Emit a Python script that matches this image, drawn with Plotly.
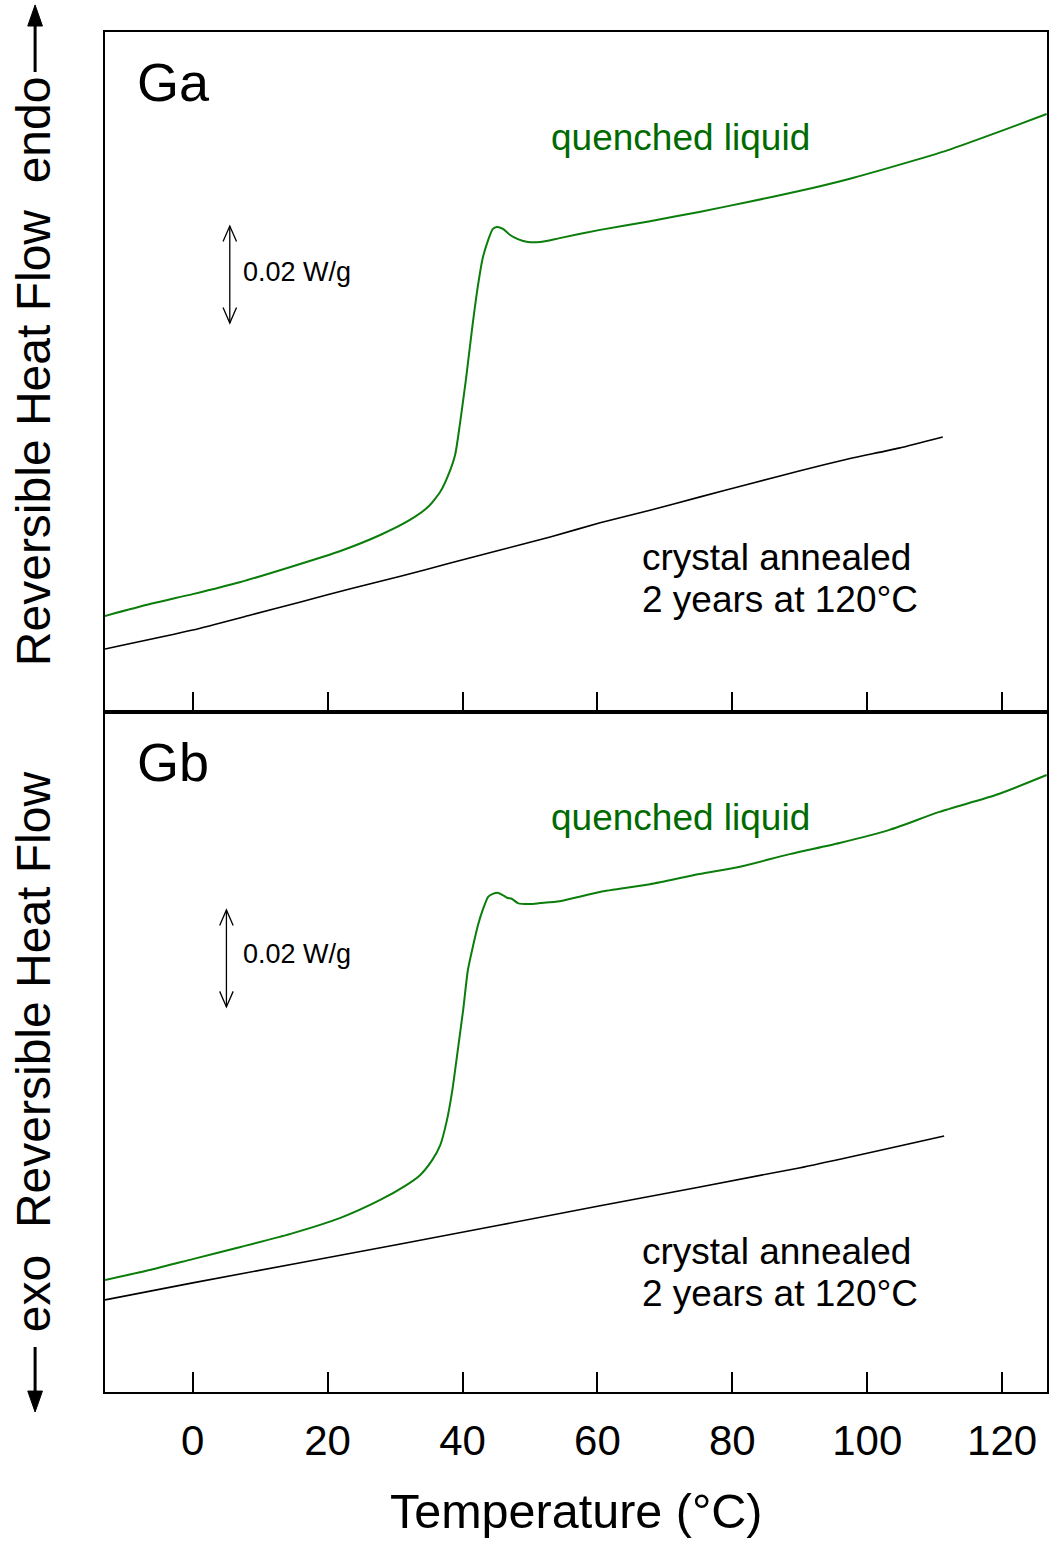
import plotly.graph_objects as go
from plotly.subplots import make_subplots

# ---------------- data ----------------
# Temperature in °C, reversible heat flow in mW/g (arbitrary offset)
T_ga_liquid = [-13.0, -6.2, 0.0, 7.1, 14.5, 21.9, 27.8, 32.2, 34.9, 36.7, 37.9, 38.9,
               39.6, 40.5, 41.4, 42.3, 43.0, 43.8, 44.5, 45.1, 46.0, 47.0, 48.2, 49.7,
               51.5, 54.4, 60.4, 67.8, 75.1, 82.5, 89.9, 97.3, 104.7, 112.1, 119.5, 126.6]
HF_ga_liquid = [19.8, 22.3, 24.3, 26.8, 29.9, 33.2, 36.5, 39.6, 42.3, 45.4, 48.9, 53.0,
                59.2, 68.5, 78.8, 88.0, 93.6, 97.3, 99.6, 100.0, 99.6, 98.4, 97.5, 96.9,
                96.9, 97.7, 99.4, 101.2, 103.1, 105.2, 107.4, 109.9, 112.8, 115.9, 119.6, 123.3]

T_ga_crystal = [-13.0, 0.0, 8.6, 16.0, 23.4, 30.8, 38.2, 45.6, 53.0, 60.4, 67.8, 75.1,
                82.5, 89.9, 97.3, 104.7, 111.2]
HF_ga_crystal = [13.0, 16.9, 20.0, 22.7, 25.4, 28.0, 30.7, 33.4, 36.1, 39.0, 41.6, 44.3,
                 47.0, 49.7, 52.2, 54.4, 56.7]

T_gb_liquid = [-13.0, -6.2, 0.0, 7.1, 14.5, 21.9, 27.8, 31.5, 33.7, 35.5, 36.7, 37.7,
               38.5, 39.3, 40.1, 40.8, 41.6, 42.3, 43.0, 43.8, 44.5, 45.3, 45.9, 46.6,
               47.3, 48.2, 50.0, 51.5, 54.4, 60.4, 67.8, 75.1, 81.1, 88.5, 95.9, 103.3,
               110.7, 119.5, 126.6]
HF_gb_liquid = [23.1, 25.2, 27.4, 29.9, 32.6, 35.9, 39.6, 42.5, 44.7, 47.8, 50.9, 56.1,
                62.3, 70.5, 78.8, 87.0, 92.2, 96.3, 99.4, 102.1, 102.7, 102.9, 102.5, 101.9,
                101.7, 100.8, 100.6, 100.8, 101.2, 103.1, 104.7, 106.8, 108.3, 110.9, 113.2, 115.9,
                119.6, 123.3, 127.2]

T_gb_crystal = [-13.0, 0.0, 30.8, 60.4, 89.9, 111.4]
HF_gb_crystal = [19.0, 22.5, 30.5, 38.4, 46.2, 52.8]

tick_vals = [0, 20, 40, 60, 80, 100, 120]
tick_text = ["0", "20", "40", "60", "80", "100", "120"]

scale_bar_mWg = 20  # 0.02 W/g

GREEN_LINE = "#0b7d0b"
GREEN_TEXT = "#006a00"
FONT = "Liberation Sans, Arial, sans-serif"

fig = make_subplots(rows=2, cols=1, shared_xaxes=True, vertical_spacing=0)

fig.add_trace(go.Scatter(x=T_ga_liquid, y=HF_ga_liquid, mode="lines",
                         line=dict(color=GREEN_LINE, width=2, shape="spline", smoothing=0.6)),
              row=1, col=1)
fig.add_trace(go.Scatter(x=T_ga_crystal, y=HF_ga_crystal, mode="lines",
                         line=dict(color="black", width=1.6, shape="spline", smoothing=0.6)),
              row=1, col=1)
fig.add_trace(go.Scatter(x=T_gb_liquid, y=HF_gb_liquid, mode="lines",
                         line=dict(color=GREEN_LINE, width=2, shape="spline", smoothing=0.6)),
              row=2, col=1)
fig.add_trace(go.Scatter(x=T_gb_crystal, y=HF_gb_crystal, mode="lines",
                         line=dict(color="black", width=1.6, shape="spline", smoothing=0.6)),
              row=2, col=1)

xr = [-13.0, 126.65]
yr = [0, 140.2]
common_x = dict(range=xr, showgrid=False, zeroline=False, showline=True, mirror=True,
                linecolor="black", linewidth=1.5, ticks="inside", ticklen=20, tickwidth=1.5,
                tickcolor="black", tickvals=tick_vals, ticktext=tick_text)
common_y = dict(range=yr, showgrid=False, zeroline=False, showline=True, mirror=True,
                linecolor="black", linewidth=1.5, ticks="", showticklabels=False)

fig.update_xaxes(**common_x, showticklabels=False, row=1, col=1)
fig.update_xaxes(**common_x, showticklabels=True, ticklabelstandoff=11,
                 tickfont=dict(size=42, color="black", family=FONT), row=2, col=1)
fig.update_yaxes(**common_y, row=1, col=1)
fig.update_yaxes(**common_y, row=2, col=1)

annotations = []
shapes = []

# panel labels
for label, yp in [("Ga", 0.9632), ("Gb", 0.4632)]:
    annotations.append(dict(text=label, xref="paper", yref="paper", x=0.0318, y=yp,
                            xanchor="left", yanchor="middle", showarrow=False,
                            font=dict(size=54, color="black", family=FONT)))

# curve labels
for yref, yq, y1, y2 in [("y", 118.4, 31.8, 23.1), ("y2", 118.4, 28.9, 20.4)]:
    xref = "x" if yref == "y" else "x2"
    annotations.append(dict(text="quenched liquid", xref=xref, yref=yref, x=72.3, y=yq,
                            xanchor="center", yanchor="middle", showarrow=False,
                            font=dict(size=37, color=GREEN_TEXT, family=FONT)))
    annotations.append(dict(text="crystal annealed", xref=xref, yref=yref, x=66.3, y=y1,
                            xanchor="left", yanchor="middle", showarrow=False,
                            font=dict(size=37, color="black", family=FONT)))
    annotations.append(dict(text="2 years at 120°C", xref=xref, yref=yref, x=66.3, y=y2,
                            xanchor="left", yanchor="middle", showarrow=False,
                            font=dict(size=37, color="black", family=FONT)))

# scale bars (0.02 W/g)
for xref, yref, xb, ylo, ytxt in [("x", "y", 5.5, 80.2, 90.7), ("x2", "y2", 5.0, 79.4, 90.3)]:
    yhi = ylo + scale_bar_mWg
    shapes.append(dict(type="line", xref=xref, yref=yref, x0=xb, x1=xb, y0=ylo, y1=yhi,
                       line=dict(color="black", width=1.3)))
    dx, dh = 1.0, 3.2
    shapes.append(dict(type="path", xref=xref, yref=yref,
                       path=f"M {xb-dx},{yhi-dh} L {xb},{yhi} L {xb+dx},{yhi-dh}",
                       line=dict(color="black", width=1.3)))
    shapes.append(dict(type="path", xref=xref, yref=yref,
                       path=f"M {xb-dx},{ylo+dh} L {xb},{ylo} L {xb+dx},{ylo+dh}",
                       line=dict(color="black", width=1.3)))
    annotations.append(dict(text="0.02 W/g", xref=xref, yref=yref, x=7.2, y=ytxt,
                            xanchor="left", yanchor="middle", showarrow=False,
                            font=dict(size=27, color="black", family=FONT)))

# y-axis labels
annotations.append(dict(text="Reversible Heat Flow  endo", xref="paper", yref="paper",
                        x=-0.0763, y=0.7507, xanchor="center", yanchor="middle",
                        textangle=-90, showarrow=False,
                        font=dict(size=48, color="black", family=FONT)))
annotations.append(dict(text="exo  Reversible Heat Flow", xref="paper", yref="paper",
                        x=-0.0763, y=0.2500, xanchor="center", yanchor="middle",
                        textangle=-90, showarrow=False,
                        font=dict(size=48, color="black", family=FONT)))

# endo / exo arrows (paper coords)
ax = -0.0742
hw = 0.0078
shapes.append(dict(type="line", xref="paper", yref="paper", x0=ax, x1=ax, y0=0.9706, y1=1.008,
                   line=dict(color="black", width=3)))
shapes.append(dict(type="path", xref="paper", yref="paper",
                   path=f"M {ax-hw},1.0044 L {ax},1.0199 L {ax+hw},1.0044 Z",
                   fillcolor="black", line=dict(color="black", width=1)))
shapes.append(dict(type="line", xref="paper", yref="paper", x0=ax, x1=ax, y0=0.0331, y1=-0.003,
                   line=dict(color="black", width=3)))
shapes.append(dict(type="path", xref="paper", yref="paper",
                   path=f"M {ax-hw},0.0007 L {ax},-0.0147 L {ax+hw},0.0007 Z",
                   fillcolor="black", line=dict(color="black", width=1)))

# x-axis title
annotations.append(dict(text="Temperature (°C)", xref="paper", yref="paper",
                        x=0.5, y=-0.0875, xanchor="center", yanchor="middle", showarrow=False,
                        font=dict(size=48.5, color="black", family=FONT)))

fig.update_layout(width=1049, height=1544,
                  margin=dict(l=105, r=0, t=32, b=152),
                  paper_bgcolor="white", plot_bgcolor="white",
                  showlegend=False, annotations=annotations, shapes=shapes,
                  font=dict(family=FONT, color="black"))

fig.write_html("out.html")
